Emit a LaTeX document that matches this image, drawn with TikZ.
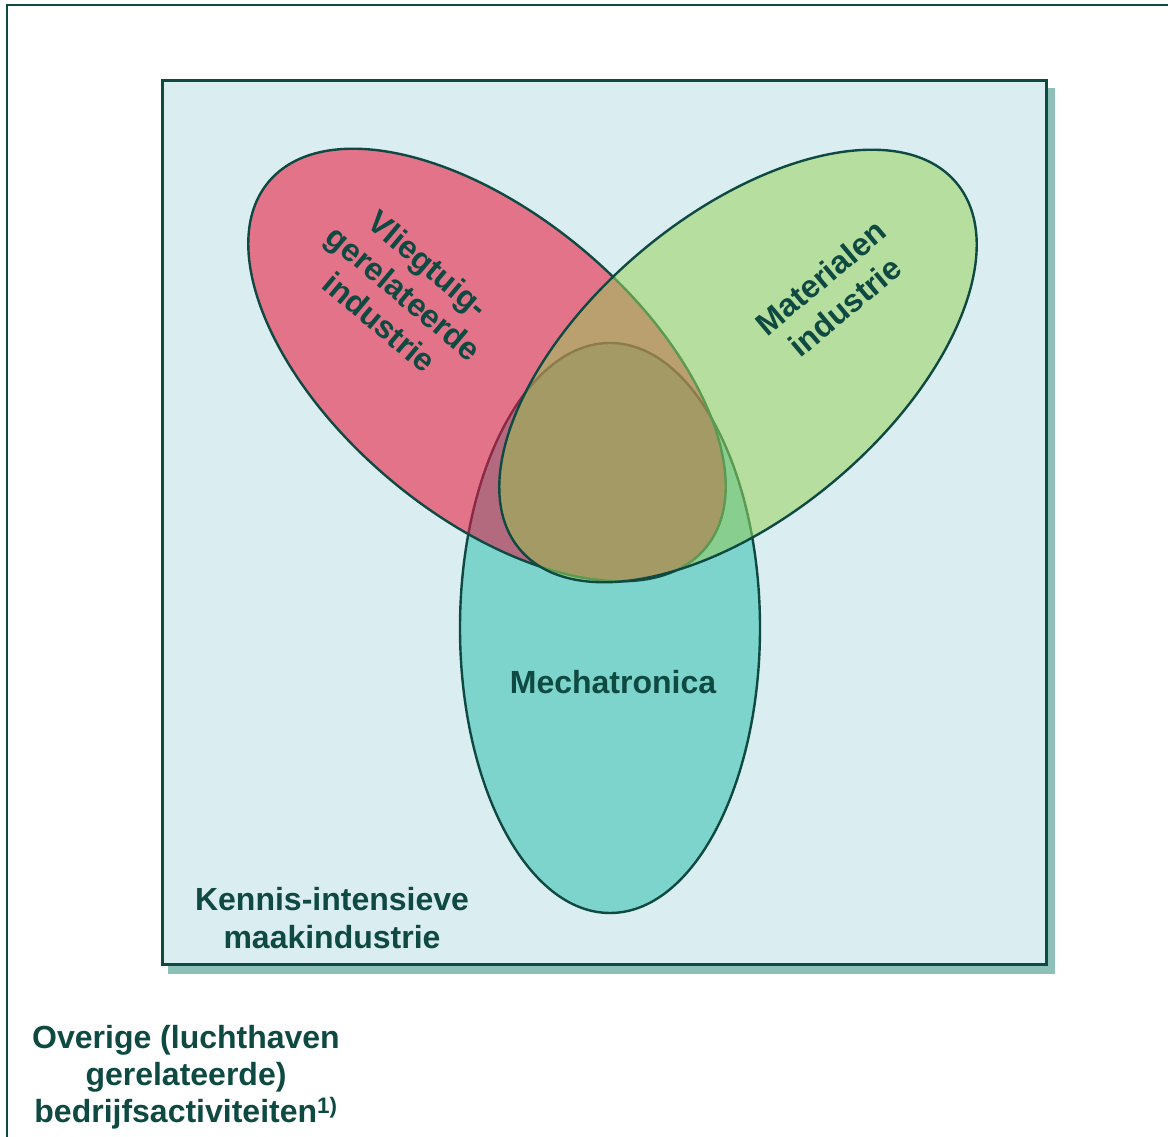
\documentclass[tikz,border=0pt]{standalone}
\usepackage{fontspec}
\setmainfont{Liberation Sans}
\begin{document}
\begin{tikzpicture}[x=1pt,y=1pt]
\definecolor{ink}{HTML}{0E4A42}
\definecolor{boxbg}{HTML}{DAEDF0}
\definecolor{shadowc}{HTML}{8CC0B8}
\definecolor{tealc}{HTML}{7DD4CC}
\definecolor{pinkc}{HTML}{E37389}
\definecolor{greenc}{HTML}{B6DE9E}
\definecolor{mauve}{HTML}{B46A7E}
\definecolor{greentwo}{HTML}{88CE8E}
\definecolor{tanc}{HTML}{B9A06E}
\definecolor{olive}{HTML}{A39A66}
\definecolor{redline}{HTML}{8A2A44}
\definecolor{grnline}{HTML}{5B9A50}
\definecolor{brnline}{HTML}{8C7B4C}
\tikzset{
  pinkrot/.style={rotate around={-40:(487,772)}},
  greenrot/.style={rotate around={40:(738,771)}},
  edge/.style={line width=2.4pt},
  lbl/.style={text=ink, font=\bfseries\fontsize{32}{38}\selectfont, align=center, inner sep=0pt}
}
\newcommand\tealE{(610,509) ellipse [x radius=150, y radius=285]}
\newcommand\pinkE{(487,772) ellipse [x radius=285, y radius=150]}
\newcommand\greenE{(738,771) ellipse [x radius=285, y radius=150]}

\useasboundingbox (0,0) rectangle (1168,1137);

% outer frame (runs past the page on the right and bottom)
\draw[ink, line width=2.7pt] (7,-20) -- (7,1132) -- (1190,1132);

% knowledge-intensive manufacturing box with its drop shadow
\fill[shadowc] (168,163) rectangle (1055,1049);
\filldraw[fill=boxbg, draw=ink, line width=3pt] (162,172) rectangle (1046,1056);

% mechatronics
\fill[tealc] \tealE;
\draw[ink, edge] \tealE;

% aircraft-related industry, over mechatronics
\fill[pinkc, pinkrot] \pinkE;
\begin{scope}
  \clip[pinkrot] \pinkE;
  \fill[mauve] \tealE;
  \draw[redline, edge] \tealE;
\end{scope}
\draw[ink, edge, pinkrot] \pinkE;

% materials industry, on top
\fill[greenc, greenrot] \greenE;
\begin{scope}
  \clip[greenrot] \greenE;
  \fill[greentwo] \tealE;
  \draw[grnline, edge] \tealE;
  \begin{scope}
    \clip[pinkrot] \pinkE;
    \fill[tanc, greenrot] \greenE;
    \fill[olive] \tealE;
    \draw[brnline, edge] \tealE;
  \end{scope}
  \draw[grnline, edge, pinkrot] \pinkE;
\end{scope}
\draw[ink, edge, greenrot] \greenE;

% labels
\node[lbl, rotate=-40] (vlieg) at (404,844) {Vliegtuig-\\gerelateerde\\industrie};
\node[lbl, rotate=40] (mat) at (833,845) {Materialen\\industrie};
\node[lbl] (mecha) at (613,455) {Mechatronica};
\node[lbl] (kennis) at (332,219) {Kennis-intensieve\\maakindustrie};
\node[lbl, font=\bfseries\fontsize{32}{37}\selectfont] (overige) at (186,60)
  {Overige (luchthaven\\gerelateerde)\\bedrijfsactiviteiten\textsuperscript{1)}};
\end{tikzpicture}
\end{document}
